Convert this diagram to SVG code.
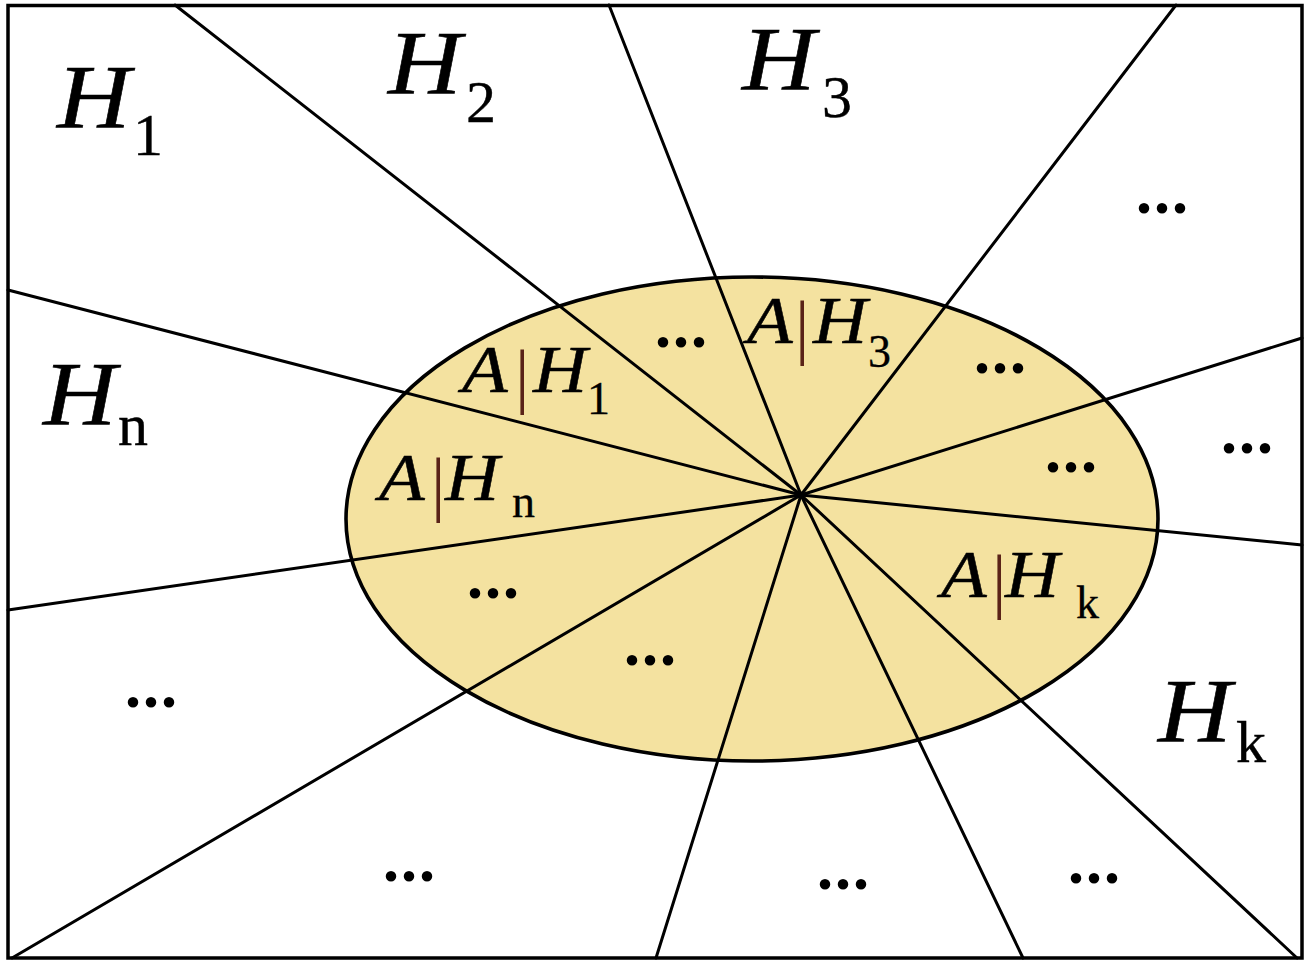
<svg xmlns="http://www.w3.org/2000/svg" width="1307" height="961" viewBox="0 0 1307 961">
  <style>
    .ray { stroke: #000; stroke-width: 3; fill: none; stroke-linecap: round; }
    text { font-family: "Liberation Serif", "Times New Roman", serif; font-style: normal; fill: #000; }
    .big { font-size: 90px; font-style: italic; stroke: #000; stroke-width: 0.6; }
    .bigsub { font-size: 60px; stroke: #000; stroke-width: 0.4; }
    .mid { font-size: 68px; font-style: italic; stroke: #000; stroke-width: 0.5; }
    .midsub { font-size: 46px; stroke: #000; stroke-width: 0.3; }
    .bar { font-size: 72px; fill: #5a2318; }
    .dots { font-size: 72px; text-anchor: middle; stroke: #000; stroke-width: 2; }
  </style>
  <rect x="0" y="0" width="1307" height="961" fill="#fff"/>
  <g id="border">
    <rect x="8" y="5.5" width="1294" height="952.5" fill="#fff" stroke="#000" stroke-width="3.5"/>
  </g>
  <g id="event-A">
    <ellipse cx="752" cy="519" rx="406" ry="242" fill="#F4E2A0" stroke="#000" stroke-width="3.6"/>
  </g>
  <g id="connectors">
    <line class="ray" x1="801" y1="495" x2="175" y2="5"/>
    <line class="ray" x1="801" y1="495" x2="609" y2="5"/>
    <line class="ray" x1="801" y1="495" x2="1176" y2="5"/>
    <line class="ray" x1="801" y1="495" x2="1302" y2="338"/>
    <line class="ray" x1="801" y1="495" x2="1302" y2="545"/>
    <line class="ray" x1="801" y1="495" x2="1297" y2="958"/>
    <line class="ray" x1="801" y1="495" x2="1023" y2="958"/>
    <line class="ray" x1="801" y1="495" x2="656" y2="958"/>
    <line class="ray" x1="801" y1="495" x2="12" y2="958"/>
    <line class="ray" x1="801" y1="495" x2="8" y2="610"/>
    <line class="ray" x1="801" y1="495" x2="8" y2="290"/>
    <circle cx="801" cy="495" r="3.5" fill="#000"/>
  </g>
  <g id="H1"><text class="big" transform="translate(57,128) scale(1.13,1)">H</text><text class="bigsub" x="133" y="155">1</text></g>
  <g id="H2"><text class="big" transform="translate(388,94) scale(1.13,1)">H</text><text class="bigsub" x="466" y="122">2</text></g>
  <g id="H3"><text class="big" transform="translate(742,90) scale(1.13,1)">H</text><text class="bigsub" x="822" y="117">3</text></g>
  <g id="Hn"><text class="big" transform="translate(43,425) scale(1.13,1)">H</text><text class="bigsub" x="118" y="445">n</text></g>
  <g id="Hk"><text class="big" transform="translate(1158,742) scale(1.13,1)">H</text><text class="bigsub" x="1236" y="762">k</text></g>
  <g id="AH1"><text class="mid" transform="translate(462,392) scale(1.1,1)">A</text><text class="bar" x="515" y="400">|</text><text class="mid" transform="translate(533,392) scale(1.1,1)">H</text><text class="midsub" x="587" y="414">1</text></g>
  <g id="AHn"><text class="mid" transform="translate(379,500) scale(1.1,1)">A</text><text class="bar" x="431" y="508">|</text><text class="mid" transform="translate(445,500) scale(1.1,1)">H</text><text class="midsub" x="512" y="517">n</text></g>
  <g id="AH3"><text class="mid" transform="translate(747,343) scale(1.1,1)">A</text><text class="bar" x="795" y="351">|</text><text class="mid" transform="translate(813,343) scale(1.1,1)">H</text><text class="midsub" x="868" y="367">3</text></g>
  <g id="AHk"><text class="mid" transform="translate(941,597) scale(1.1,1)">A</text><text class="bar" x="992" y="605">|</text><text class="mid" transform="translate(1005,597) scale(1.1,1)">H</text><text class="midsub" x="1076" y="618">k</text></g>
  <g id="ellipsis-labels">
    <text class="dots" x="1162" y="212">...</text>
    <text class="dots" x="1247" y="452">...</text>
    <text class="dots" x="681" y="346">...</text>
    <text class="dots" x="1000" y="372">...</text>
    <text class="dots" x="1071" y="471">...</text>
    <text class="dots" x="493" y="597">...</text>
    <text class="dots" x="650" y="664">...</text>
    <text class="dots" x="151" y="706">...</text>
    <text class="dots" x="409" y="880">...</text>
    <text class="dots" x="843" y="888">...</text>
    <text class="dots" x="1094" y="882">...</text>
  </g>
</svg>
